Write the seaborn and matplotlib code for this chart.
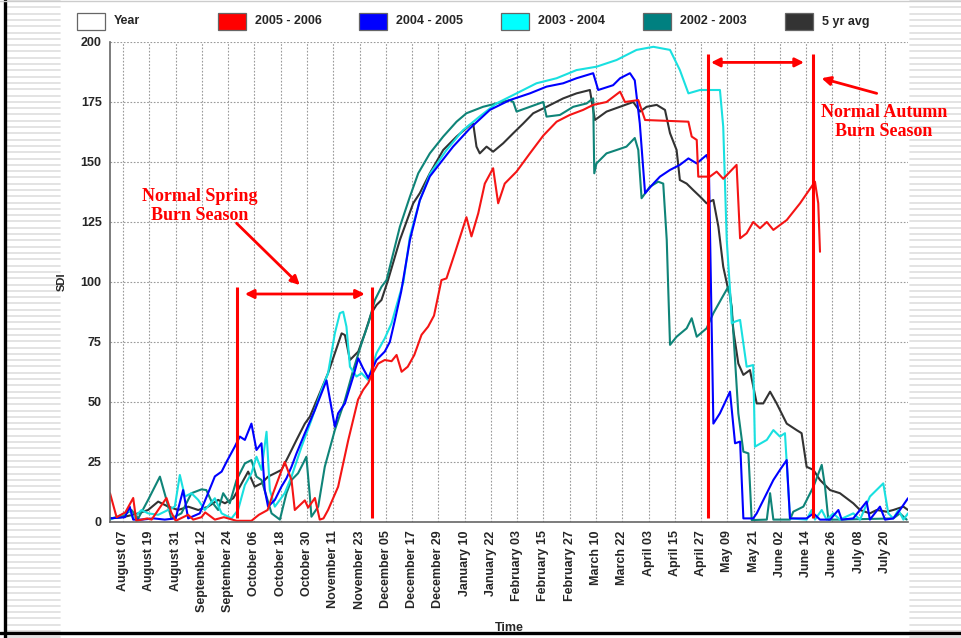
import numpy as np
import pandas as pd
import matplotlib
matplotlib.use("Agg")
import matplotlib.pyplot as plt
import seaborn as sns
from matplotlib.patches import Rectangle
from matplotlib.lines import Line2D

# --- datos (día desde 1 de agosto, SDI) ---
red_day = [0, 3, 7, 10.6, 12, 17, 19, 22, 25.8, 28, 30, 35.7, 38, 41.8, 43.5, 47.9, 52, 57.8, 64.6, 68, 72, 74.5,
           79.8, 82.9, 84.4, 89, 90.5, 93.6, 95.8, 97.5, 99.6, 104.2, 108.8, 113.3, 115.6, 118, 119.4, 122.5, 125.5,
           128.6, 130.9, 133.2, 136, 139, 142.3, 145.3, 148, 151.4, 153.7, 157.5, 162.8, 165.1, 168.2, 171.2, 175,
           177.3, 180.3, 185.7, 191.8, 197.9, 204, 210, 216.1, 220.7, 226.8, 233, 235.2, 241.3, 244.4, 264.2, 265.7,
           268, 268.7, 274, 277.1, 280.1, 286.2, 287.8, 290.8, 293.8, 296.9, 300, 303, 309.1, 315.2, 322, 323.5, 324.3]
red_sdi = [12, 2, 4, 10, 0.5, 1.5, 1, 5, 10, 4, 0.5, 3, 1, 2, 4, 1, 2, 0.5, 0.5, 3, 5, 12,
           25, 17.5, 5, 9, 6, 10, 1, 1.5, 5, 14.7, 34, 51, 55, 58, 61, 66, 67.5,
           67, 69.6, 62.6, 64.7, 69.6, 78, 81.4, 86, 100.8, 101.5, 112, 127, 119, 128.6, 141, 147.4,
           132.8, 141, 146, 153.6, 161, 166.8, 169.6, 171.7, 173.8, 175, 179.3, 175, 175.8, 167.5, 166.8, 160.6,
           159.2, 143.9, 143.9, 146, 143, 148.8, 118.2, 120.3, 125, 122.4, 125, 121.7, 125.8, 132.8, 141.8, 132.8, 112.6]

blue_day = [0, 6.8, 9, 10.6, 14.4, 20, 25, 30, 33.4, 35.7, 41, 44.8, 47.9, 51, 53.2, 57, 59.3, 61.6, 64.6, 66.9,
            69.2, 70.7, 72.2, 75.3, 78.3, 80.6, 82.9, 85.2, 89, 93.6, 98.9, 102.7, 104.2, 107.3, 111.1, 113.4, 115.6,
            118, 121.7, 125.5, 127.8, 130.1, 133, 137, 141.5, 146.1, 150.7, 156.7, 164.4, 173.5, 182.6, 191.8, 199.4,
            207, 213.1, 220.7, 223, 229.8, 233, 237.5, 239.7, 242, 244.4, 248.2, 251.2, 255.8, 260.3, 264.2, 268,
            272.5, 273.5, 275.6, 278.6, 283.2, 285.5, 287.8, 289.3, 293.8, 295.4, 303, 306, 309.1, 310.6, 318.2,
            321.3, 324.3, 328.9, 332.7, 334.2, 339.5, 345.6, 347.1, 351.7, 354, 357.8, 360.8, 364.5]
blue_sdi = [1.5, 2, 6.4, 1, 1, 1.5, 1, 1.5, 13.3, 1.5, 3.6, 12, 19, 21, 25, 31.4, 35.6, 34.2, 41, 30,
            32.8, 13.3, 6.4, 9.2, 14.7, 18.2, 23, 28.6, 37, 46.7, 59, 39.7, 45.3, 49.4, 60.6, 68.2, 64,
            60, 67.5, 71, 75, 84, 96, 117.5, 134, 144, 149.4, 156.4, 164, 171.7, 175.8, 178.6, 181.4,
            182.8, 184.9, 187, 180, 182, 184.9, 187, 184, 166, 137, 141, 143.9, 146.7, 148.8, 151.5, 149.4,
            152.9, 150, 41, 45.3, 54.3, 32.8, 33.5, 1.5, 1.5, 3.6, 17.5, 21.7, 25.8, 1.5, 1.5,
            3.6, 1, 1, 5, 1, 1.5, 8.5, 1, 6.4, 1, 1.5, 5, 9.9]

cyan_day = [0, 6.8, 9, 10.6, 14.4, 17.4, 22, 29.6, 31.9, 34.2, 37.2, 40.3, 43.3, 47.9, 51, 55.5, 58.5, 61.6, 64.6,
            66.9, 69.2, 71.5, 73, 75.3, 79.8, 82.9, 87.5, 92, 96.6, 99.6, 102.7, 105, 106.5, 108, 109.6, 112.6, 114.9,
            117.9, 121.7, 125.5, 128.6, 131.6, 134, 137, 141.5, 146.1, 153.7, 161.3, 168.9, 176.5, 185.7, 194.8, 204,
            213.1, 222.2, 231.4, 240.5, 248.2, 255.8, 260.3, 264.2, 269.5, 278.6, 280.1, 281.7, 283.2, 284, 285.5,
            287.8, 290.8, 293.8, 294.6, 300, 303, 306, 308.3, 310.6, 318.2, 320.5, 322, 325.1, 327.3, 330.4, 333.4,
            339.5, 342.6, 347.1, 353.2, 355.5, 357.8, 360.1, 362.4, 364.5]
cyan_sdi = [1, 3.6, 5, 1.5, 5, 3.6, 3, 6.4, 19.6, 10.6, 12, 9.2, 5, 9.9, 3.6, 1.5, 5, 15.4, 20.3,
            27.2, 21.7, 37.6, 13.3, 6.4, 12, 18.9, 31.4, 42.5, 55, 62, 78.6, 87, 87.6, 81.4, 64.7, 60.6, 62,
            59.2, 70.3, 76.5, 82.8, 92.5, 100, 119, 134, 145, 155, 163.3, 169, 174.4, 178.6, 182.8, 184.9,
            188.3, 189.7, 192.5, 196.7, 198, 196.7, 188.3, 178.6, 180, 180, 164.7, 117.5, 96.7, 82.8, 83.5,
            84.2, 64.7, 65.4, 31.4, 34.2, 38.3, 35.6, 37, 1.5, 1, 5, 1, 5, 1, 3.6, 1,
            3.6, 1, 10.6, 16.1, 3.6, 1.5, 5, 1, 3.6]

teal_day = [0, 5.2, 9.8, 12.9, 17.4, 22.8, 25.8, 28, 32.6, 37.2, 41.8, 44, 46.4, 49.4, 51.7, 54.7, 57.8, 61.6, 64.6,
            66.9, 69.2, 71.5, 73.8, 77.6, 80.6, 82.9, 85.9, 88.2, 89.7, 91.3, 92, 95.1, 98.1, 102.7, 107.3, 111.1,
            114.9, 118, 121, 124, 126.3, 132.4, 137, 140.8, 146.1, 152.2, 158.3, 162.8, 170.4, 176.5, 182.6, 184.2,
            185.7, 191.8, 197.9, 199.4, 205.5, 211.6, 217.7, 220.7, 221.2, 222.2, 226.8, 231.4, 235.9, 239.7, 241.3,
            242.8, 246.6, 250.4, 252.7, 254.3, 255, 255.8, 258.8, 263.4, 265.7, 268, 272.5, 275.6, 279.4, 282.4, 284,
            287, 289.3, 291.6, 293.1, 300, 301.5, 303, 310.6, 312.1, 316.7, 321.3, 325.1, 326.6, 328.1, 333.4,
            357.8, 360.8, 363.9]
teal_sdi = [1.5, 2.2, 5, 1.5, 9.2, 18.9, 9.2, 1.5, 3.6, 12, 13.6, 13.3, 8.5, 5, 12, 7.8, 17.5, 24.4, 25.8,
            18.9, 17.5, 10.6, 3.6, 1, 12, 17.5, 20.3, 24.4, 27.2, 10.6, 2.2, 6.4, 23, 38.3, 50.8, 63.3,
            74.4, 82.8, 92.5, 98, 100.8, 123, 135.6, 145.3, 153.6, 160.6, 166.8, 170.3, 173, 174.4, 175.8, 175,
            171, 173, 175, 168.9, 169.6, 173, 174.4, 176.5, 145.3, 149.4, 153.6, 155, 156.4, 160, 155,
            134.9, 139.7, 141.8, 141, 117.5, 96.7, 73.8, 77.2, 80.7, 84.9, 77.2, 80.7, 87, 93.2, 98, 89.7,
            45.3, 29.3, 28.6, 0.8, 1, 12, 1, 1, 4.3, 6.4, 14.7, 23.8, 14.7, 1, 1,
            1.5, 3.6, 1]

avg_day = [0, 6.8, 12.9, 17.4, 22, 26.6, 31.1, 35.7, 40.3, 44.8, 49.4, 52.5, 56.3, 59.3, 63.1, 66.1, 69.2, 72.2,
           75.3, 78.3, 81.4, 85.2, 89, 91.3, 95.1, 99.6, 102.7, 105.8, 107.3, 109.6, 113.4, 116.4, 119.4, 121.7, 124,
           127, 132.4, 138.5, 141.5, 146.1, 152.2, 158.3, 164.4, 165.9, 167.4, 168.9, 172, 175, 179.6, 184.2, 188.7,
           193.3, 199.4, 207, 213.1, 219.2, 221.5, 226.8, 232.9, 239, 242.1, 245.1, 249.7, 253.5, 255.8, 258.8,
           260.3, 263.4, 266.4, 269.5, 272.5, 275.6, 277.9, 280.1, 282.4, 283.2, 284.7, 287, 289.3, 292.3, 295.4,
           298.4, 301.5, 304.5, 309.1, 313.6, 315.9, 318.2, 321.3, 324.3, 328.9, 333.4, 339.5, 342.6, 347.1, 350.2,
           354.8, 357.8, 362.4, 364.5]
avg_sdi = [1.5, 2.2, 3.6, 5, 8.5, 6.4, 5, 6.4, 5, 6.4, 9.2, 7.8, 9.9, 14.7, 21, 14.7, 16.1, 18.9,
           20.3, 21.7, 27.2, 34.2, 41, 43.9, 52.2, 62, 70.3, 78.6, 77.9, 67.5, 71, 78.6, 87, 90.4, 92.5,
           100.8, 117.5, 132.8, 137, 145.3, 155, 160.6, 165.4, 166, 156.4, 153.6, 156.4, 154.3, 157.8, 162, 166,
           170.3, 173, 176.5, 178.6, 180, 167.5, 171, 173, 175, 171, 173, 173.8, 171.7, 162, 155,
           142.5, 141, 138.3, 135.6, 132.8, 134.2, 123, 106.4, 96.7, 95.3, 80, 66, 61.3, 63.3, 49.4,
           49.4, 54.3, 49.4, 41, 38.3, 37, 23, 21.7, 17.5, 13.3, 12, 7.8, 5, 3.6, 5,
           4.3, 5, 6.4, 5]

series_names = ["2005 - 2006", "2004 - 2005", "2003 - 2004", "2002 - 2003", "5 yr avg"]
series_colors = ["#f51515", "#0000ff", "#19e0e0", "#0f8478", "#333333"]
tick_labels = ["August 07", "August 19", "August 31", "September 12", "September 24", "October 06",
               "October 18", "October 30", "November 11", "November 23", "December 05", "December 17",
               "December 29", "January 10", "January 22", "February 03", "February 15", "February 27",
               "March 10", "March 22", "April 03", "April 15", "April 27", "May 09", "May 21",
               "June 02", "June 14", "June 26", "July 08", "July 20"]
tick_days = [6 + 12 * i for i in range(len(tick_labels))]

spring_season = [57.8, 119.8]
autumn_season = [273.3, 321.0]

frames = []
for name, d, v in zip(series_names,
                      [red_day, blue_day, cyan_day, teal_day, avg_day],
                      [red_sdi, blue_sdi, cyan_sdi, teal_sdi, avg_sdi]):
    frames.append(pd.DataFrame({"day": d, "sdi": v, "series": name}))
df = pd.concat(frames, ignore_index=True)

# --- figura ---
W, H = 961, 638
fx = lambda px: px / W
fy = lambda py: 1 - py / H

sns.set_style("white")
plt.rcParams["font.family"] = ["Liberation Sans", "DejaVu Sans"]

fig = plt.figure(figsize=(W / 100, H / 100), dpi=100)

# fondo rayado a los lados (debajo de los ejes)
for y in np.arange(1, H, 6.3):
    fig.add_artist(Line2D([fx(7), fx(60)], [fy(y), fy(y)], color="#dedede", lw=1.2, zorder=-5))
    fig.add_artist(Line2D([fx(910), fx(961)], [fy(y), fy(y)], color="#dedede", lw=1.2, zorder=-5))
fig.add_artist(Line2D([fx(5), fx(5)], [0, 1], color="black", lw=2.4, zorder=-4))
fig.add_artist(Line2D([0, 1], [fy(633), fy(633)], color="black", lw=2.4, zorder=-4))
fig.add_artist(Line2D([0, 1], [fy(0.5), fy(0.5)], color="#cccccc", lw=1, zorder=-4))

ax = fig.add_axes([fx(110), fy(522), fx(908) - fx(110), fy(42) - fy(522)])
ax.set_facecolor("white")

draw_order = ["5 yr avg", "2002 - 2003", "2003 - 2004", "2004 - 2005", "2005 - 2006"]
palette = dict(zip(series_names, series_colors))
sns.lineplot(data=df, x="day", y="sdi", hue="series", hue_order=draw_order, palette=palette,
             estimator=None, sort=False, legend=False, lw=1.5, ax=ax)

ax.set_xlim(0, 364.5)
ax.set_ylim(0, 200)
ax.set_xticks(tick_days)
ax.set_xticklabels(tick_labels, rotation=90, fontsize=9, fontweight="bold")
ax.set_yticks(range(0, 201, 25))
ax.set_yticklabels([str(v) for v in range(0, 201, 25)], fontsize=9, fontweight="bold")
ax.tick_params(axis="both", direction="out", length=4, width=1, color="#777777", pad=2)
ax.grid(True, color="#9a9a9a", lw=0.8, ls=(0, (1.5, 1.5)))
for s in ["top", "right"]:
    ax.spines[s].set_visible(False)
for s in ["left", "bottom"]:
    ax.spines[s].set_color("#666666")
    ax.spines[s].set_linewidth(1.2)

ax.set_xlabel("Time", fontsize=9, fontweight="bold")
ax.xaxis.set_label_coords(0.5, (522 - 622) / 480)
ax.set_ylabel("SDI", fontsize=8, fontweight="bold")
ax.yaxis.set_label_coords((67 - 110) / 798, 0.5)

# temporadas de quema
ax.vlines(spring_season, 1.5, 98, colors="red", lw=2.2, zorder=5)
ax.vlines(autumn_season, 1.5, 195, colors="red", lw=2.2, zorder=5)
arrow_kw = dict(color="red", lw=2, shrinkA=0, shrinkB=0, mutation_scale=13)
ax.annotate("", xy=(61.6, 95), xytext=(116.4, 95), arrowprops=dict(arrowstyle="<|-|>", **arrow_kw))
ax.annotate("", xy=(274.5, 191.5), xytext=(317, 191.5), arrowprops=dict(arrowstyle="<|-|>", **arrow_kw))
ax.annotate("", xy=(86.7, 98.7), xytext=(57.8, 124.5), arrowprops=dict(arrowstyle="-|>", **arrow_kw))
ax.annotate("", xy=(325, 184.9), xytext=(350.2, 178.6), arrowprops=dict(arrowstyle="-|>", **arrow_kw),
            annotation_clip=False)

ax.text(41, 131.7, "Normal Spring\nBurn Season", color="red", fontsize=13, fontweight="bold",
        family=["Liberation Serif", "DejaVu Serif"], ha="center", va="center", linespacing=1.15)
ax.text(353.5, 166.5, "Normal Autumn\nBurn Season", color="red", fontsize=13, fontweight="bold",
        family=["Liberation Serif", "DejaVu Serif"], ha="center", va="center", linespacing=1.15,
        clip_on=False)

# leyenda manual arriba
legend_x = [77, 218, 359, 501, 643, 785]
legend_names = ["Year"] + series_names
legend_fill = ["white", "#ff0000", "#0000ff", "#00ffff", "#008080", "#333333"]
for x, name, c in zip(legend_x, legend_names, legend_fill):
    fig.add_artist(Rectangle((fx(x), fy(30)), 28 / W, 17 / H, transform=fig.transFigure,
                             facecolor=c, edgecolor="#666666", lw=0.9))
    fig.text(fx(x + 37), fy(21.5), name, fontsize=9, fontweight="bold", va="center", ha="left")

fig.savefig("out.png", dpi=100)
